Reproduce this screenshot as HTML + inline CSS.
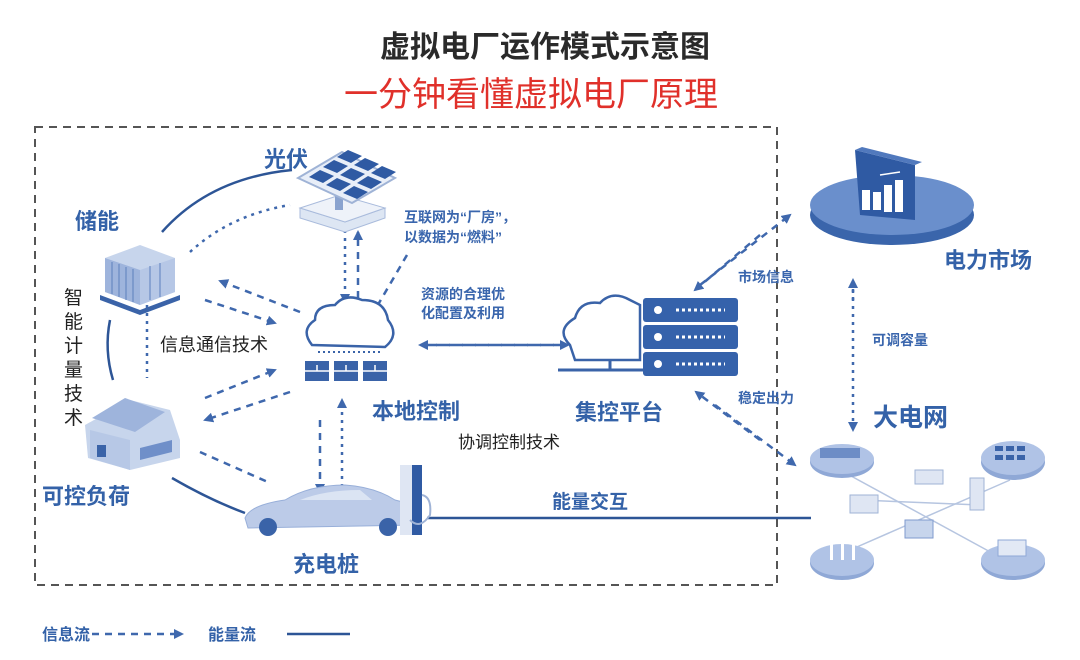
<!DOCTYPE html>
<html><head><meta charset="utf-8"><style>
html,body{margin:0;padding:0;background:#fff;}
svg{display:block;}
text{font-family:"Liberation Sans","Noto Sans CJK SC",sans-serif;}
.b{fill:#3462a8;font-weight:bold;}
.k{fill:#222;}
.s{fill:#3a66ad;font-weight:bold;font-size:14px;}
.dash{stroke:#3f68ad;stroke-width:2.5;fill:none;stroke-dasharray:7 6;}
.dot{stroke:#3f68ad;stroke-width:2.5;fill:none;stroke-dasharray:3 5;}
.sol{stroke:#2d5596;stroke-width:2.5;fill:none;}
</style></head><body>
<svg width="1080" height="660" viewBox="0 0 1080 660" xmlns="http://www.w3.org/2000/svg">
<defs>
<marker id="ar" markerWidth="10" markerHeight="10" refX="8" refY="5" orient="auto" markerUnits="userSpaceOnUse"><path d="M0,0 L10,5 L0,10 z" fill="#3f68ad"/></marker>
</defs>
<rect width="1080" height="660" fill="#fff"/>
<text x="545" y="57" text-anchor="middle" font-size="30" font-weight="bold" fill="#2a2a2a">虚拟电厂运作模式示意图</text>
<text x="531" y="106" text-anchor="middle" font-size="34" fill="#e0302a">一分钟看懂虚拟电厂原理</text>

<rect x="35" y="127" width="742" height="458" fill="none" stroke="#555" stroke-width="2" stroke-dasharray="8 6"/>

<!-- solid arcs -->
<path class="sol" d="M162,232 Q210,178 292,170"/>
<path class="sol" d="M110,320 Q104,350 113,380"/>
<path class="sol" d="M172,478 Q210,500 245,513"/>
<line class="sol" x1="427" y1="518" x2="811" y2="518"/>

<!-- dashed connectors -->
<path class="dot" d="M190,252 Q230,215 290,205"/>
<line class="dot" x1="147" y1="305" x2="147" y2="378"/>
<line class="dash" x1="300" y1="312" x2="220" y2="281" marker-end="url(#ar)"/>
<line class="dash" x1="205" y1="300" x2="275" y2="323" marker-end="url(#ar)"/>
<line class="dash" x1="205" y1="398" x2="275" y2="370" marker-end="url(#ar)"/>
<line class="dash" x1="290" y1="392" x2="205" y2="420" marker-end="url(#ar)"/>
<line class="dash" x1="200" y1="452" x2="270" y2="483"/>
<line class="dot" x1="345" y1="230" x2="345" y2="302" marker-end="url(#ar)"/>
<line class="dash" x1="358" y1="298" x2="358" y2="232" marker-end="url(#ar)"/>
<line class="dash" x1="320" y1="420" x2="320" y2="492" marker-end="url(#ar)"/>
<line class="dot" x1="342" y1="495" x2="342" y2="400" marker-end="url(#ar)"/>
<line class="dash" x1="407" y1="255" x2="372" y2="315"/>
<line class="dash" x1="560" y1="345" x2="420" y2="345" marker-end="url(#ar)"/>
<line class="dash" x1="430" y1="345" x2="568" y2="345" marker-end="url(#ar)"/>
<line class="dash" x1="700" y1="285" x2="790" y2="215" marker-end="url(#ar)"/>
<line class="dash" x1="760" y1="235" x2="695" y2="290" marker-end="url(#ar)"/>
<line class="dash" x1="715" y1="405" x2="795" y2="465" marker-end="url(#ar)"/>
<line class="dash" x1="760" y1="440" x2="696" y2="392" marker-end="url(#ar)"/>
<line class="dot" x1="853" y1="300" x2="853" y2="280" marker-end="url(#ar)"/>
<line class="dot" x1="853" y1="290" x2="853" y2="430" marker-end="url(#ar)"/>

<!-- solar panel -->
<path d="M300,208 L345,222 L385,208 L385,218 L345,232 L300,218z" fill="#dde6f3" stroke="#a9bbdc"/>
<path d="M300,208 L340,195 L385,208 L345,222z" fill="#eef2f9" stroke="#a9bbdc"/>
<rect x="335" y="188" width="8" height="22" fill="#8aa3cf"/>
<path d="M298,178 L352,203 L395,178 L342,152 z" fill="#e8eef8" stroke="#9fb3d6" stroke-width="2"/>
<g transform="translate(8,5)" fill="#2f5aa3">
<path d="M301,172 L315,178 L326,171 L312,165z"/><path d="M318,180 L332,186 L343,179 L329,173z"/><path d="M335,188 L349,194 L360,187 L346,181z"/>
<path d="M315,162 L329,168 L340,161 L326,155z"/><path d="M332,170 L346,176 L357,169 L343,163z"/><path d="M349,178 L363,184 L374,177 L360,171z"/>
<path d="M329,152 L343,158 L354,151 L340,145z"/><path d="M346,160 L360,166 L371,159 L357,153z"/><path d="M363,168 L377,174 L388,167 L374,161z"/>
</g>

<!-- battery storage -->
<path d="M105,258 L140,245 L175,258 L175,292 L140,305 L105,292z" fill="#c7d5ec"/>
<path d="M105,258 L140,270 L140,305 L105,292z" fill="#9eb4dc"/>
<path d="M140,270 L175,258 L175,292 L140,305z" fill="#b6c7e6"/>
<g stroke="#5c7fbd" stroke-width="1"><line x1="112" y1="262" x2="112" y2="294"/><line x1="119" y1="264" x2="119" y2="297"/><line x1="126" y1="267" x2="126" y2="300"/><line x1="133" y1="269" x2="133" y2="302"/><line x1="150" y1="266" x2="150" y2="300"/><line x1="160" y1="263" x2="160" y2="297"/></g>
<path d="M100,295 L140,310 L180,295 L180,300 L140,315 L100,300z" fill="#3a63a8"/>

<!-- house -->
<path d="M85,425 L130,400 L170,410 L180,440 L180,458 L130,470 L88,458z" fill="#c7d5ec"/>
<path d="M92,418 L125,398 L165,412 L135,432z" fill="#9eb4dc"/>
<path d="M90,430 L130,440 L130,470 L90,458z" fill="#b7c8e6"/>
<rect x="97" y="445" width="9" height="12" fill="#3a63a8"/>
<path d="M140,448 L172,440 L172,452 L140,460z" fill="#6f8fc9"/>

<!-- car -->
<path d="M245,518 Q250,505 285,500 Q310,485 345,485 Q375,487 395,500 L415,505 L418,525 L248,528z" fill="#bccbe8" stroke="#98afd9"/>
<circle cx="268" cy="527" r="9" fill="#3a63a8"/><circle cx="388" cy="527" r="9" fill="#3a63a8"/>
<path d="M300,500 Q325,490 360,490 L372,500z" fill="#dbe4f3"/>
<!-- charger -->
<rect x="400" y="465" width="20" height="70" fill="#dfe6f3"/>
<rect x="412" y="465" width="10" height="70" fill="#2f5aa3"/>
<path d="M422,495 Q432,497 430,515 Q420,530 410,520" fill="none" stroke="#9fb3d6" stroke-width="2"/>

<!-- local cloud -->
<path d="M312,345 Q300,330 315,320 Q315,305 335,305 Q345,293 362,300 Q385,300 388,320 Q400,335 385,347 z" fill="#fff" stroke="#3a63a8" stroke-width="2.5"/>
<line x1="318" y1="352" x2="380" y2="352" stroke="#3a63a8" stroke-width="2" stroke-dasharray="2 3"/>
<g fill="#3a63a8"><rect x="305" y="361" width="24" height="20"/><rect x="334" y="361" width="24" height="20"/><rect x="363" y="361" width="24" height="20"/></g>
<g stroke="#fff" stroke-width="1.5"><line x1="305" y1="371" x2="387" y2="371"/><line x1="317" y1="365" x2="317" y2="371"/><line x1="346" y1="365" x2="346" y2="371"/><line x1="375" y1="365" x2="375" y2="371"/></g>

<!-- control platform -->
<path d="M570,345 Q555,330 575,318 Q580,300 600,303 Q612,290 630,300 L640,305 L640,360 L575,360z" fill="#fff" stroke="#3a63a8" stroke-width="2.5"/>
<line x1="558" y1="370" x2="645" y2="370" stroke="#3a63a8" stroke-width="3"/>
<line x1="610" y1="360" x2="610" y2="370" stroke="#3a63a8" stroke-width="3"/>
<g fill="#3562ab"><rect x="643" y="298" width="95" height="24" rx="3"/><rect x="643" y="325" width="95" height="24" rx="3"/><rect x="643" y="352" width="95" height="24" rx="3"/></g>
<g fill="#fff"><circle cx="658" cy="310" r="4"/><circle cx="658" cy="337" r="4"/><circle cx="658" cy="364" r="4"/></g>
<g stroke="#fff" stroke-width="3" stroke-dasharray="3 3"><line x1="676" y1="310" x2="725" y2="310"/><line x1="676" y1="337" x2="725" y2="337"/><line x1="676" y1="364" x2="725" y2="364"/></g>

<!-- market -->
<ellipse cx="892" cy="215" rx="82" ry="30" fill="#3a65ab"/>
<ellipse cx="892" cy="205" rx="82" ry="30" fill="#6a8fcc"/>
<path d="M855,150 L915,165 L915,220 L860,215z" fill="#2f5aa3"/>
<path d="M855,150 L862,147 L922,162 L915,165z" fill="#5179bd"/>
<g fill="#fff"><rect x="862" y="190" width="8" height="20"/><rect x="873" y="192" width="8" height="18"/><rect x="884" y="185" width="8" height="27"/><rect x="895" y="180" width="8" height="32"/></g>
<line x1="880" y1="175" x2="900" y2="172" stroke="#fff" stroke-width="1.5"/>

<!-- grid -->
<g stroke="#b6c5e0" stroke-width="1.5"><line x1="840" y1="470" x2="1005" y2="560"/><line x1="850" y1="550" x2="1010" y2="480"/><line x1="860" y1="500" x2="980" y2="505"/></g>
<ellipse cx="842" cy="462" rx="32" ry="16" fill="#8fa8d6"/><ellipse cx="842" cy="459" rx="32" ry="15" fill="#b0c3e6"/>
<rect x="820" y="448" width="40" height="10" fill="#6d8dc6"/>
<ellipse cx="1013" cy="462" rx="32" ry="18" fill="#8fa8d6"/><ellipse cx="1013" cy="458" rx="32" ry="17" fill="#b0c3e6"/>
<g fill="#3a63a8"><rect x="995" y="446" width="8" height="5"/><rect x="1006" y="446" width="8" height="5"/><rect x="1017" y="446" width="8" height="5"/><rect x="995" y="455" width="8" height="5"/><rect x="1006" y="455" width="8" height="5"/><rect x="1017" y="455" width="8" height="5"/></g>
<ellipse cx="842" cy="563" rx="32" ry="17" fill="#8fa8d6"/><ellipse cx="842" cy="560" rx="32" ry="16" fill="#b0c3e6"/>
<g fill="#fff"><rect x="830" y="538" width="3" height="22"/><rect x="841" y="538" width="3" height="22"/><rect x="852" y="538" width="3" height="22"/></g>
<ellipse cx="1013" cy="563" rx="32" ry="17" fill="#8fa8d6"/><ellipse cx="1013" cy="560" rx="32" ry="16" fill="#b0c3e6"/>
<rect x="998" y="540" width="28" height="16" fill="#e2e9f5" stroke="#8fa8d6"/>
<rect x="915" y="470" width="28" height="14" fill="#dfe6f3" stroke="#9fb3d6"/>
<rect x="850" y="495" width="28" height="18" fill="#dfe6f3" stroke="#9fb3d6"/>
<rect x="905" y="520" width="28" height="18" fill="#c7d5ec" stroke="#7f9ace"/>
<rect x="970" y="478" width="14" height="32" fill="#dfe6f3" stroke="#9fb3d6"/>

<!-- labels -->
<text class="b" x="264" y="167" font-size="22">光伏</text>
<text class="b" x="75" y="229" font-size="22">储能</text>
<g class="k" font-size="19"><text x="64" y="304">智</text><text x="64" y="328">能</text><text x="64" y="352">计</text><text x="64" y="376">量</text><text x="64" y="400">技</text><text x="64" y="424">术</text></g>
<text class="k" x="160" y="351" font-size="18">信息通信技术</text>
<text class="b" x="42" y="504" font-size="22">可控负荷</text>
<text class="b" x="372" y="419" font-size="22">本地控制</text>
<text class="k" x="458" y="448" font-size="17">协调控制技术</text>
<text class="b" x="293" y="572" font-size="22">充电桩</text>
<text class="s" x="404" y="222">互联网为“厂房”，</text>
<text class="s" x="404" y="242">以数据为“燃料”</text>
<text class="s" x="421" y="299">资源的合理优</text>
<text class="s" x="421" y="318">化配置及利用</text>
<text class="b" x="575" y="420" font-size="22">集控平台</text>
<text class="b" x="552" y="508" font-size="19">能量交互</text>
<text class="s" x="738" y="282">市场信息</text>
<text class="s" x="738" y="403">稳定出力</text>
<text class="s" x="872" y="345">可调容量</text>
<text class="b" x="944" y="268" font-size="22">电力市场</text>
<text class="b" x="873" y="426" font-size="25">大电网</text>

<!-- legend -->
<text class="b" x="42" y="640" font-size="16">信息流</text>
<line class="dash" x1="92" y1="634" x2="182" y2="634" marker-end="url(#ar)"/>
<text class="b" x="208" y="640" font-size="16">能量流</text>
<line class="sol" x1="287" y1="634" x2="350" y2="634"/>
</svg>
</body></html>
